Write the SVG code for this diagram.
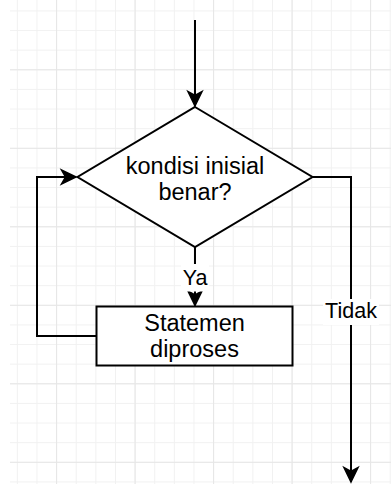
<svg xmlns="http://www.w3.org/2000/svg" width="391" height="484" viewBox="0 0 391 484">
  <style>
    .shape { fill: #ffffff; stroke: #000000; stroke-width: 2; }
    .edge { fill: none; stroke: #000000; stroke-width: 2; stroke-linejoin: miter; }
    .node-text { font-family: "Liberation Sans", Arial, sans-serif; font-size: 23.5px; fill: #000000; text-anchor: middle; }
    .edge-text { font-family: "Liberation Sans", Arial, sans-serif; font-size: 21.5px; fill: #000000; text-anchor: middle; }
    .label-bg { fill: #ffffff; }
  </style>
  <defs>
    <!-- minor grid cell -->
    <pattern id="gridMinor" x="56.1" y="69.3" width="19.625" height="19.625" patternUnits="userSpaceOnUse">
      <rect x="0" y="0" width="1" height="19.625" fill="#f1f1f1"/>
      <rect x="0" y="0" width="19.625" height="1" fill="#f1f1f1"/>
    </pattern>
    <!-- major grid cell (every 4 minor cells) -->
    <pattern id="gridMajor" x="56.1" y="69.3" width="78.5" height="78.5" patternUnits="userSpaceOnUse">
      <rect x="0" y="0" width="1" height="78.5" fill="#e6e6e6"/>
      <rect x="0" y="0" width="78.5" height="1" fill="#e6e6e6"/>
    </pattern>
    <!-- classic block arrowhead, tip at the path end -->
    <marker id="arrow" viewBox="-17 -9 19 18" refX="0" refY="0" markerWidth="19" markerHeight="18" markerUnits="userSpaceOnUse" orient="auto">
      <path d="M0,0 L-14.5,-7 L-10.5,0 L-14.5,7 Z" fill="#000000" stroke="#000000" stroke-width="1.5" stroke-linejoin="miter"/>
    </marker>
  </defs>

  <!-- page background and grid -->
  <rect x="0" y="0" width="391" height="484" fill="#ffffff"/>
  <rect x="10" y="0" width="381" height="484" fill="url(#gridMinor)"/>
  <rect x="10" y="0" width="381" height="484" fill="url(#gridMajor)"/>

  <!-- connectors -->
  <g id="connectors">
    <path id="edge-start" class="edge" d="M195,20 L195,106" marker-end="url(#arrow)"/>
    <path id="edge-ya" class="edge" d="M195,247 L195,305.5" marker-end="url(#arrow)"/>
    <path id="edge-loop" class="edge" d="M96.5,336 L37,336 L37,177 L76,177" marker-end="url(#arrow)"/>
    <path id="edge-tidak" class="edge" d="M312.5,177 L351,177 L351,482" marker-end="url(#arrow)"/>
    <g id="label-ya">
      <rect class="label-bg" x="181" y="264" width="28" height="27.5"/>
      <text class="edge-text" x="195" y="285">Ya</text>
    </g>
    <g id="label-tidak">
      <rect class="label-bg" x="323" y="299" width="56" height="26"/>
      <text class="edge-text" x="351" y="318">Tidak</text>
    </g>
  </g>

  <!-- decision node -->
  <g id="decision">
    <polygon class="shape" points="195,107 312.5,177 195,247 77.5,177"/>
    <text class="node-text" x="195" y="174">kondisi inisial</text>
    <text class="node-text" x="195" y="200">benar?</text>
  </g>

  <!-- process node -->
  <g id="process">
    <rect class="shape" x="96.5" y="306.5" width="196" height="59"/>
    <text class="node-text" x="194.5" y="331">Statemen</text>
    <text class="node-text" x="194.5" y="357">diproses</text>
  </g>
</svg>
